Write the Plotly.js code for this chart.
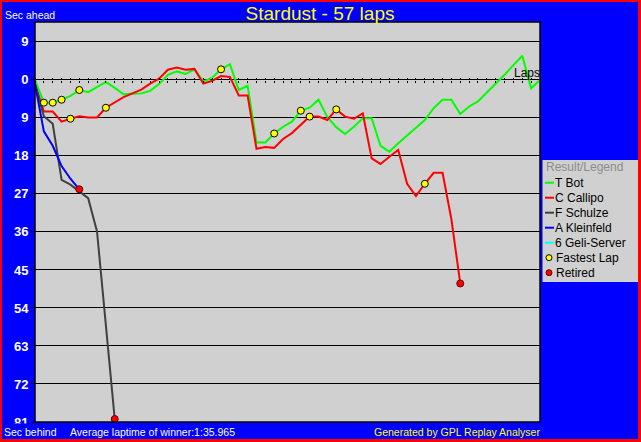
<!DOCTYPE html>
<html>
<head>
<meta charset="utf-8">
<script src="https://cdn.plot.ly/plotly-3.0.1.min.js"></script>
<style>
  html, body { margin: 0; padding: 0; background: #FF0000; width: 641px; height: 442px; overflow: hidden; }
  #chart { position: absolute; left: 2px; top: 2px; width: 636px; height: 437px; }
</style>
</head>
<body>
<div id="chart"></div>
<script>
// ---- Data (seconds behind the leader; negative = ahead) ----
const driverNames = ['T Bot', 'C Callipo', 'F Schulze', 'A Kleinfeld', '6 Geli-Server'];
const driverColors = ['#00FF00', '#FF0000', '#404040', '#0000FF', '#00FFFF'];

const tBot = [0, 5.4, 5.4, 4.7, 3.8, 2.4, 2.9, 1.8, 0.5, 1.9, 3.4, 3.3, 3.2, 2.6, 1.0, -1.2, -2.0, -1.4, -2.5, 0.4,
              -0.5, -2.5, -3.7, 2.4, 1.4, 14.8, 14.8, 12.7, 11.1, 9.9, 7.3, 6.6, 4.7, 8.8, 11.2, 12.8, 11.1, 9.1, 9.1, 15.6,
              17.0, 15.0, 13.2, 11.2, 9.5, 6.7, 4.7, 4.7, 8.1, 6.3, 5.1, 3.0, 1.0, -1.2, -3.5, -5.7, 2.0, 0];
const cCallipo = [1.0, 7.5, 7.5, 9.9, 9.2, 8.6, 8.9, 8.9, 6.6, 5.4, 4.1, 3.2, 2.3, 0.9, -0.3, -2.4, -2.9, -2.4, -2.6, 0.9,
                  0.2, -0.9, -0.7, 3.7, 3.7, 16.3, 15.9, 16.1, 14.0, 12.6, 10.6, 8.7, 8.7, 9.5, 7.0, 8.7, 9.2, 7.9, 18.6, 19.9,
                  18.2, 16.6, 24.6, 27.5, 24.6, 22.0, 22.0, 33.0, 48.2];
const fSchulze = [1.0, 8.6, 10.4, 23.7, 24.8, 26.4, 28.0, 35.9, 57.8, 80.3];
const aKleinfeld = [1.0, 12.2, 15.6, 20.4, 23.4, 25.9];
const geliServer = [];

// fastest-lap laps per driver
const fastestLapsBot = [1, 2, 3, 5, 21, 27, 30];
const fastestLapsCallipo = [4, 8, 31, 34, 44];

// y tick labels (absolute seconds)
const yTickVals = [-9, 0, 9, 18, 27, 36, 45, 54, 63, 72, 81];
const yTickText = ['9', '0', '9', '18', '27', '36', '45', '54', '63', '72', '81'];

const totalLaps = 57;
const titleText = 'Stardust - 57 laps';

// ---- Build traces ----
const series = [tBot, cCallipo, fSchulze, aKleinfeld, geliServer];
const lapsOf = arr => arr.map((_, i) => i);

const traces = series.map((s, k) => ({
  type: 'scatter', mode: 'lines', name: driverNames[k],
  x: lapsOf(s), y: s,
  line: { color: driverColors[k], width: 2 },
  hoverinfo: 'skip'
}));

const flX = fastestLapsBot.concat(fastestLapsCallipo);
const flY = fastestLapsBot.map(l => tBot[l]).concat(fastestLapsCallipo.map(l => cCallipo[l]));
traces.push({
  type: 'scatter', mode: 'markers', name: 'Fastest Lap',
  x: flX, y: flY,
  marker: { symbol: 'circle', size: 7, color: '#FFFF00', line: { color: '#000000', width: 1 } },
  hoverinfo: 'skip'
});

const retired = [cCallipo, fSchulze, aKleinfeld];
traces.push({
  type: 'scatter', mode: 'markers', name: 'Retired',
  x: retired.map(s => s.length - 1), y: retired.map(s => s[s.length - 1]),
  marker: { symbol: 'circle', size: 7, color: '#FF0000', line: { color: '#600000', width: 1 } },
  hoverinfo: 'skip'
});

// dummy trace for the upper tick axis
traces.push({ type: 'scatter', mode: 'lines', x: [null], y: [null], xaxis: 'x2', yaxis: 'y', showlegend: false, hoverinfo: 'skip' });

// ---- Layout helpers (page px -> paper) ----
const PL = 35, PR = 540, PT = 22, PB = 422;
const px = x => (x - PL) / (PR - PL);
const py = y => (PB - y) / (PB - PT);

const yMin = -13.7, yMax = 81;
const zeroPos = (yMax - 0) / (yMax - yMin);

const txt = (text, x, y, xanchor, color, size) => ({
  text: text, xref: 'paper', yref: 'paper', x: px(x), y: py(y), xanchor: xanchor, yanchor: 'middle',
  showarrow: false, font: { family: 'Liberation Sans, Arial, sans-serif', size: size || 12, color: color }
});

const annotations = [
  txt('Sec ahead', 3, 15, 'left', '#FFFFFF', 10.5),
  txt('Sec behind', 2, 432, 'left', '#FFFFFF', 10.5),
  txt('Average laptime of winner:1:35.965', 68, 432, 'left', '#FFFFFF', 10.5),
  txt('Generated by GPL Replay Analyser', 542, 432, 'right', '#FFFF00', 10.5),
  txt('Laps', 542, 73, 'right', '#000000', 12),
  txt('Result/Legend', 544, 167, 'left', '#8C8C8C', 12)
];

const shapes = [
  // cover the lower half of the bottom tick label, as in the original
  { type: 'rect', xref: 'paper', yref: 'paper', x0: px(2), x1: px(34), y0: py(439), y1: py(423.5),
    fillcolor: '#0000FF', line: { width: 0 }, layer: 'above' },
  // legend background
  { type: 'rect', xref: 'paper', yref: 'paper', x0: px(542.5), x1: px(640), y0: py(282), y1: py(160),
    fillcolor: '#D0D0D0', line: { width: 0 }, layer: 'above' },
  // plot frame
  { type: 'rect', xref: 'paper', yref: 'paper', x0: 0, x1: 1, y0: 0, y1: 1,
    line: { color: '#000000', width: 1.5 }, layer: 'above' }
];

const legendRowsY = [182.7, 197.7, 212.7, 227.7, 242.7];
driverNames.forEach((n, k) => {
  shapes.push({ type: 'line', xref: 'paper', yref: 'paper', x0: px(545), x1: px(554), y0: py(legendRowsY[k]), y1: py(legendRowsY[k]),
    line: { color: driverColors[k], width: 2 }, layer: 'above' });
  annotations.push(txt(n, 553, legendRowsY[k], 'left', '#000000', 12));
});
const markerRows = [['Fastest Lap', '#FFFF00', '#000000', 257.7], ['Retired', '#FF0000', '#600000', 272.7]];
markerRows.forEach(r => {
  shapes.push({ type: 'circle', xref: 'paper', yref: 'paper', xsizemode: 'pixel', ysizemode: 'pixel',
    xanchor: px(549), yanchor: py(r[3]), x0: -3, x1: 3, y0: -3, y1: 3,
    fillcolor: r[1], line: { color: r[2], width: 1 }, layer: 'above' });
  annotations.push(txt(r[0], 554, r[3], 'left', '#000000', 12));
});

const tickAxis = side => ({
  range: [0, totalLaps], anchor: 'free', position: zeroPos, side: side,
  showgrid: false, zeroline: false, showticklabels: false, showline: false,
  ticks: 'outside', ticklen: 2, tickwidth: 1, tickcolor: '#000000', tick0: 0, dtick: 1, fixedrange: true
});

const layout = {
  width: 636, height: 437,
  margin: { l: PL - 2, r: 638 - PR, t: PT - 2, b: 439 - PB, pad: 0 },
  paper_bgcolor: '#0000FF', plot_bgcolor: '#D0D0D0',
  showlegend: false,
  title: { text: titleText, x: 0.5, xref: 'container', xanchor: 'center', y: 1 - 11 / 437, yref: 'container', yanchor: 'middle',
           font: { family: 'Liberation Sans, Arial, sans-serif', size: 19, color: '#FFFF00' } },
  xaxis: tickAxis('bottom'),
  xaxis2: Object.assign(tickAxis('top'), { overlaying: 'x' }),
  yaxis: {
    range: [yMax, yMin], tickvals: yTickVals, ticktext: yTickText,
    showgrid: true, gridcolor: '#000000', gridwidth: 1,
    zeroline: true, zerolinecolor: '#000000', zerolinewidth: 1,
    showline: false, ticks: 'outside', ticklen: 3, tickcolor: '#000000',
    tickfont: { family: 'Liberation Sans, Arial, sans-serif', size: 13, color: '#FFFFFF', weight: 'bold' },
    fixedrange: true
  },
  annotations: annotations,
  shapes: shapes
};

Plotly.newPlot('chart', traces, layout, { staticPlot: true, displayModeBar: false });
</script>
</body>
</html>
